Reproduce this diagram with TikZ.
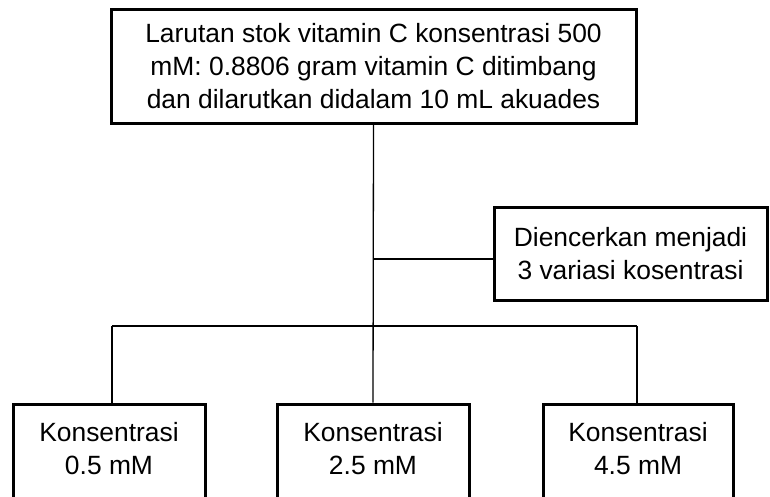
\documentclass[tikz,border=0pt]{standalone}
\usepackage{fontspec}
\setmainfont{Liberation Sans}
\begin{document}
\begin{tikzpicture}[x=1pt,y=-1pt,
  font=\fontsize{26.4pt}{33pt}\selectfont,
  box/.style={draw,line width=3pt,inner sep=0pt,align=center},
  txt/.style={inner sep=0pt,align=center},
  conn/.style={line width=1.3pt}]
\clip (0,0) rectangle (770,496);
\useasboundingbox (0,0) rectangle (770,496);
\node[box,minimum width=525pt,minimum height=114pt] (top) at (373.5,66)
  {Larutan stok vitamin C konsentrasi 500\\mM: 0.8806 gram vitamin C ditimbang\\dan dilarutkan didalam 10 mL akuades};
\node[box,minimum width=273pt,minimum height=93pt] (side) at (630.5,253.5)
  {Diencerkan menjadi\\3 variasi kosentrasi};
\node[box,minimum width=192pt,minimum height=96pt] (b1) at (109,452) {};
\node[box,minimum width=192pt,minimum height=96pt] (b2) at (373,452) {};
\node[box,minimum width=190pt,minimum height=96pt] (b3) at (638,452) {};
\node[txt] (t1) at (109,448.5) {Konsentrasi\\0.5 mM};
\node[txt] (t2) at (373,448.5) {Konsentrasi\\2.5 mM};
\node[txt] (t3) at (638,448.5) {Konsentrasi\\4.5 mM};
\coordinate (hl) at (112,326);
\coordinate (hr) at (637,326);
\coordinate (sj) at (373,259);
\draw[conn] (top.south) -- (b2.north);
\draw[conn] (sj) -- (sj -| side.west);
\draw[conn] (hl) -- (hr);
\draw[conn] (hl) -- (hl |- b1.north);
\draw[conn] (hr) -- (hr |- b3.north);
\end{tikzpicture}
\end{document}
